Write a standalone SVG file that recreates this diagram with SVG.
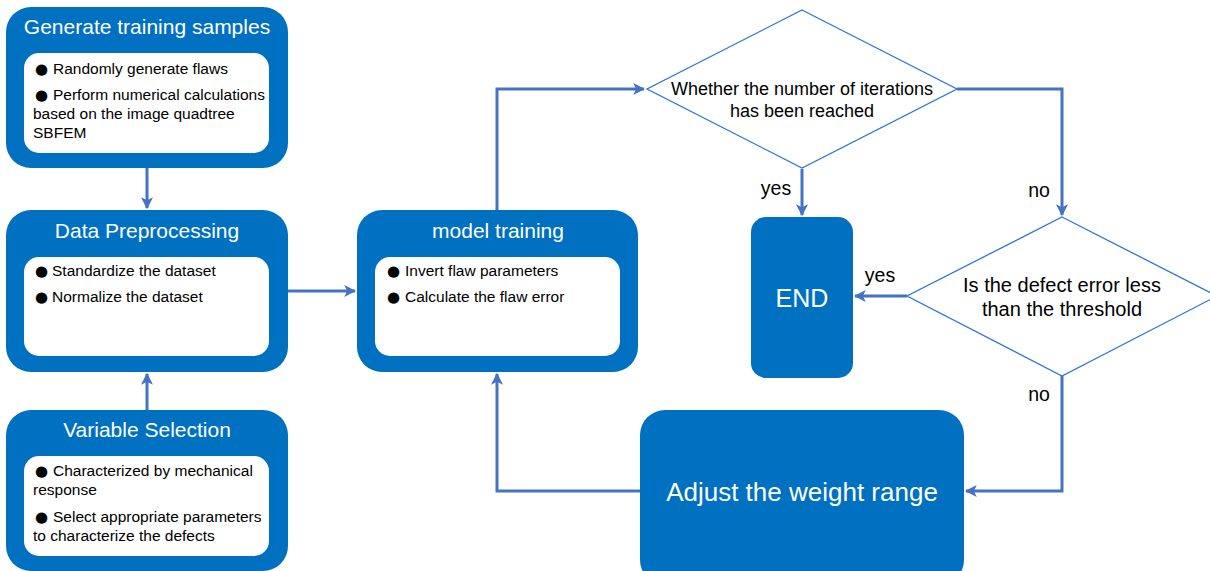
<svg xmlns="http://www.w3.org/2000/svg" width="1210" height="571" viewBox="0 0 1210 571">
<defs>
<style>
.box{fill:#0070C0;}
.inner{fill:#FFFFFF;}
.title{font-family:"Liberation Sans",Arial,sans-serif;font-size:21px;fill:#FFFFFF;text-anchor:middle;}
.item{font-family:"Liberation Sans",Arial,sans-serif;font-size:15.5px;fill:#000000;}
.bul{font-family:"DejaVu Sans",sans-serif;font-size:15px;}
.dia{fill:#FFFFFF;stroke:#2E75D0;stroke-width:1.3;}
.dtext{font-family:"Liberation Sans",Arial,sans-serif;font-size:18px;fill:#000000;text-anchor:middle;}
.big{font-family:"Liberation Sans",Arial,sans-serif;font-size:25px;fill:#FFFFFF;text-anchor:middle;}
.lbl{font-family:"Liberation Sans",Arial,sans-serif;font-size:19.5px;fill:#000000;text-anchor:middle;}
.conn{fill:none;stroke:#4472C4;stroke-width:3;marker-end:url(#arr);}
</style>
<marker id="arr" viewBox="0 0 10 10" refX="9" refY="5" markerWidth="4" markerHeight="4" orient="auto" markerUnits="strokeWidth">
<path d="M0,0 L10,5 L0,10 L2.5,5 Z" fill="#4472C4"/>
</marker>
</defs>

<g id="connectors">
<path class="conn" d="M147,168 L147,208"/>
<path class="conn" d="M147,410 L147,374"/>
<path class="conn" d="M288,291 L355,291"/>
<path class="conn" d="M497,210 L497,89 L644,89"/>
<path class="conn" d="M957,89 L1062,89 L1062,215"/>
<path class="conn" d="M802,169 L802,215"/>
<path class="conn" d="M907,296 L855,296"/>
<path class="conn" d="M1062,376 L1062,491 L966,491"/>
<path class="conn" d="M640,491 L497,491 L497,374"/>
<text class="lbl" x="776" y="195">yes</text>
<text class="lbl" x="1039" y="197">no</text>
<text class="lbl" x="880" y="282">yes</text>
<text class="lbl" x="1039" y="401">no</text>
</g>

<g id="generate">
<rect class="box" x="6" y="7" width="282" height="161" rx="25"/>
<rect class="inner" x="24" y="53" width="245" height="100" rx="15"/>
<text class="title" x="147" y="34">Generate training samples</text>
<text class="item" y="74"><tspan class="bul" x="35">●</tspan><tspan x="53">Randomly generate flaws</tspan></text>
<text class="item" y="100"><tspan class="bul" x="35">●</tspan><tspan x="53">Perform numerical calculations</tspan></text>
<text class="item" x="33" y="119">based on the image quadtree</text>
<text class="item" x="33" y="138">SBFEM</text>
</g>

<g id="preprocessing">
<rect class="box" x="6" y="210" width="282" height="162" rx="25"/>
<rect class="inner" x="24" y="257" width="245" height="99" rx="15"/>
<text class="title" x="147" y="238">Data Preprocessing</text>
<text class="item" y="276"><tspan class="bul" x="35">●</tspan><tspan x="52">Standardize the dataset</tspan></text>
<text class="item" y="302"><tspan class="bul" x="35">●</tspan><tspan x="52">Normalize the dataset</tspan></text>
</g>

<g id="variable">
<rect class="box" x="6" y="410" width="282" height="161" rx="25"/>
<rect class="inner" x="24" y="456" width="245" height="100" rx="15"/>
<text class="title" x="147" y="437">Variable Selection</text>
<text class="item" y="476"><tspan class="bul" x="35">●</tspan><tspan x="53">Characterized by mechanical</tspan></text>
<text class="item" x="33" y="495">response</text>
<text class="item" y="522"><tspan class="bul" x="35">●</tspan><tspan x="53">Select appropriate parameters</tspan></text>
<text class="item" x="33" y="541">to characterize the defects</text>
</g>

<g id="training">
<rect class="box" x="357" y="210" width="281" height="162" rx="25"/>
<rect class="inner" x="375" y="257" width="245" height="99" rx="15"/>
<text class="title" x="498" y="238">model training</text>
<text class="item" y="276"><tspan class="bul" x="387">●</tspan><tspan x="405">Invert flaw parameters</tspan></text>
<text class="item" y="302"><tspan class="bul" x="387">●</tspan><tspan x="405">Calculate the flaw error</tspan></text>
</g>

<g id="iterations">
<polygon class="dia" points="802,10 957,89 802,168 647,89"/>
<text class="dtext" x="802" y="95">Whether the number of iterations</text>
<text class="dtext" x="802" y="117">has been reached</text>
</g>

<g id="end">
<rect class="box" x="751" y="217" width="102" height="161" rx="15"/>
<text class="big" x="802" y="307">END</text>
</g>

<g id="threshold">
<polygon class="dia" points="1062,217 1217,296 1062,376 907,296"/>
<text class="dtext" x="1062" y="292" style="font-size:20px">Is the defect error less</text>
<text class="dtext" x="1062" y="316" style="font-size:20px">than the threshold</text>
</g>

<g id="adjust">
<rect class="box" x="640" y="410" width="324" height="175" rx="25"/>
<text class="big" x="802" y="501" style="font-size:26px">Adjust the weight range</text>
</g>
</svg>
